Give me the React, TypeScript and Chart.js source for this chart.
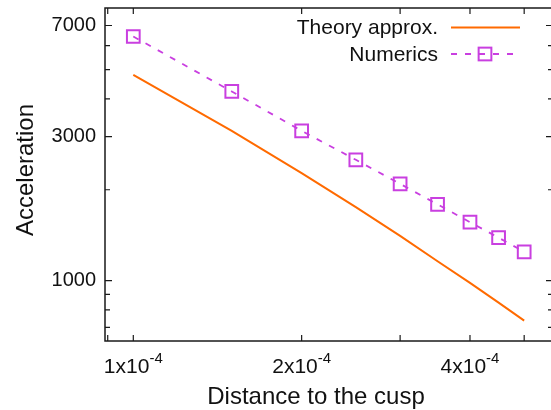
import React, { useEffect, useRef } from 'react';
import { Chart, registerables } from 'chart.js';

Chart.register(...registerables);

// ---- data ----
const distance = [1.0e-4, 1.5e-4, 2.0e-4, 2.5e-4, 3.0e-4, 3.5e-4, 4.0e-4, 4.5e-4, 5.0e-4];
const theoryApprox = [4806, 3135, 2272, 1752, 1406, 1159, 983, 846, 737];
const numerics = [6437, 4232, 3135, 2513, 2092, 1789, 1562, 1388, 1245];

const yTickValues = [700, 800, 900, 1000, 2000, 3000, 4000, 5000, 6000, 7000];
const yTickLabels = [1000, 3000, 7000];
const xTickValues = [0.9e-4, 1e-4, 2e-4, 3e-4, 4e-4, 5e-4];
const xTickLabels = [1e-4, 2e-4, 4e-4];

const seriesNames = ['Theory approx.', 'Numerics'];
const xTitle = 'Distance to the cusp';
const yTitle = 'Acceleration';

const ORANGE = '#ff6a00';
const VIOLET = '#c93fe0';
const FONT = '"Liberation Sans", Arial, Helvetica, sans-serif';
const INK = '#111111';

const decorations = {
  id: 'gnuplotDecor',
  afterDraw(chart: any) {
    const { ctx, chartArea: a } = chart;
    const xs = chart.scales.x;
    const ys = chart.scales.y;
    ctx.save();
    // frame
    ctx.strokeStyle = '#1a1a1a';
    ctx.lineWidth = 1.5;
    ctx.setLineDash([]);
    ctx.strokeRect(a.left, a.top, a.right - a.left, a.bottom - a.top);

    // y ticks (mirrored)
    ctx.lineWidth = 1.2;
    ctx.beginPath();
    for (const v of yTickValues) {
      const py = ys.getPixelForValue(v);
      const len = yTickLabels.includes(v) ? 7 : 5;
      ctx.moveTo(a.left, py);
      ctx.lineTo(a.left + len, py);
      ctx.moveTo(a.right, py);
      ctx.lineTo(a.right - len, py);
    }
    // x ticks (mirrored)
    for (const v of xTickValues) {
      const px = xs.getPixelForValue(v);
      const len = 6;
      ctx.moveTo(px, a.bottom);
      ctx.lineTo(px, a.bottom - len);
      ctx.moveTo(px, a.top);
      ctx.lineTo(px, a.top + len);
    }
    ctx.stroke();

    // x tick labels with superscript exponent
    ctx.fillStyle = INK;
    ctx.textBaseline = 'alphabetic';
    ctx.textAlign = 'left';
    for (const v of xTickLabels) {
      const px = xs.getPixelForValue(v);
      const e = Math.floor(Math.log10(v) + 1e-9);
      const m = Math.round(v / Math.pow(10, e));
      const base = `${m}x10`;
      const sup = `${e}`;
      ctx.font = `21px ${FONT}`;
      const wb = ctx.measureText(base).width;
      ctx.font = `15px ${FONT}`;
      const ws = ctx.measureText(sup).width;
      const x0 = px - (wb + ws) / 2;
      ctx.font = `21px ${FONT}`;
      ctx.fillText(base, x0, 373);
      ctx.font = `15px ${FONT}`;
      ctx.fillText(sup, x0 + wb, 363);
    }

    // axis titles
    ctx.font = `24px ${FONT}`;
    ctx.textAlign = 'center';
    ctx.fillText(xTitle, 316, 404);
    ctx.save();
    ctx.translate(33, 170);
    ctx.rotate(-Math.PI / 2);
    ctx.fillText(yTitle, 0, 0);
    ctx.restore();

    // gnuplot-style legend
    const rows = [27.5, 54];
    chart.data.datasets.forEach((ds: any, i: number) => {
      const y = rows[i];
      ctx.font = `21px ${FONT}`;
      ctx.textAlign = 'right';
      ctx.textBaseline = 'middle';
      ctx.fillStyle = INK;
      ctx.fillText(ds.label, 438, y + 1);
      ctx.strokeStyle = ds.borderColor;
      ctx.lineWidth = ds.borderWidth;
      ctx.setLineDash(ds.borderDash || []);
      ctx.beginPath();
      ctx.moveTo(451, y);
      ctx.lineTo(520, y);
      ctx.stroke();
      ctx.setLineDash([]);
      if (ds.pointRadius > 0) {
        const s = ds.pointRadius * Math.SQRT1_2;
        ctx.lineWidth = ds.pointBorderWidth;
        ctx.strokeStyle = ds.pointBorderColor;
        ctx.strokeRect(485 - s, y - s, 2 * s, 2 * s);
      }
    });
    ctx.restore();
  },
};

export default function App() {
  const ref = useRef<HTMLCanvasElement | null>(null);
  useEffect(() => {
    if (!ref.current) return;
    const chart = new Chart(ref.current, {
      type: 'line',
      data: {
        datasets: [
          {
            label: seriesNames[0],
            data: distance.map((x, i) => ({ x, y: theoryApprox[i] })),
            borderColor: ORANGE,
            borderWidth: 2,
            pointRadius: 0,
            tension: 0,
            fill: false,
          },
          {
            label: seriesNames[1],
            data: distance.map((x, i) => ({ x, y: numerics[i] })),
            borderColor: VIOLET,
            borderWidth: 1.8,
            borderDash: [6, 8],
            pointStyle: 'rect',
            pointRadius: 9,
            pointBorderWidth: 2,
            pointBorderColor: VIOLET,
            pointBackgroundColor: 'rgba(0,0,0,0)',
            tension: 0,
            fill: false,
          },
        ],
      },
      options: {
        animation: false,
        responsive: false,
        events: [],
        layout: { autoPadding: false, padding: { top: 8, right: 3, left: 0, bottom: 0 } },
        plugins: { legend: { display: false }, tooltip: { enabled: false }, title: { display: false } },
        scales: {
          x: {
            type: 'logarithmic',
            min: 0.89e-4,
            max: 5.63e-4,
            grid: { display: false, drawTicks: false },
            border: { display: false },
            ticks: { display: false },
            afterFit: (s: any) => {
              s.height = 69;
              s.paddingLeft = 0;
              s.paddingRight = 0;
            },
          },
          y: {
            type: 'logarithmic',
            min: 631,
            max: 8000,
            grid: { display: false, drawTicks: false },
            border: { display: false },
            afterBuildTicks: (s: any) => {
              s.ticks = yTickValues.map((v) => ({ value: v }));
            },
            ticks: {
              autoSkip: false,
              padding: 9,
              color: INK,
              font: { family: FONT, size: 20 },
              callback: (v: any) => (yTickLabels.includes(Number(v)) ? String(v) : ''),
            },
            afterFit: (s: any) => {
              s.width = 105;
              s.paddingTop = 0;
              s.paddingBottom = 0;
            },
          },
        },
      },
      plugins: [decorations],
    });
    return () => chart.destroy();
  }, []);
  return (
    <div style={{ position: 'absolute', left: 0, top: 0, width: 551, height: 410, overflow: 'hidden', background: '#fff' }}>
      <canvas ref={ref} width={556} height={410} style={{ width: 556, height: 410, display: 'block' }} />
    </div>
  );
}
